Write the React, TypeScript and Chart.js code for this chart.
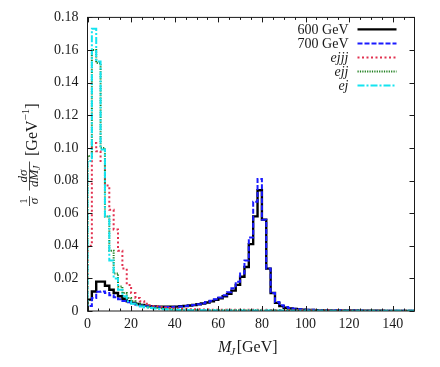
import React, { useEffect, useRef } from "react";
import { Chart, registerables } from "chart.js";

Chart.register(...registerables);

const SERIF = '"Liberation Serif", "DejaVu Serif", serif';
const INK = "#1a1a1a";

// 2 GeV bins: edges from 0 to 150 GeV
const binEdges = [
  0, 2, 4, 6, 8, 10, 12, 14, 16, 18, 20, 22, 24, 26, 28, 30, 32, 34, 36, 38,
  40, 42, 44, 46, 48, 50, 52, 54, 56, 58, 60, 62, 64, 66, 68, 70, 72, 74, 76, 78,
  80, 82, 84, 86, 88, 90, 92, 94, 96, 98, 100, 102, 104, 106, 108, 110, 112, 114,
  116, 118, 120, 122, 124, 126, 128, 130, 132, 134, 136, 138, 140, 142, 144, 146,
  148, 150,
];

const xMajorTicks = [0, 20, 40, 60, 80, 100, 120, 140];
const xMinorTicks = [5, 10, 15, 25, 30, 35, 45, 50, 55, 65, 70, 75, 85, 90, 95, 105, 110, 115, 125, 130, 135, 145];
const yMajorTicks = [0, 0.02, 0.04, 0.06, 0.08, 0.1, 0.12, 0.14, 0.16, 0.18];

const seriesLabels = ["600 GeV", "700 GeV", "ejjj", "ejj", "ej"];
const labelItalic = [false, false, true, true, true];

const sig600 = [
  0.007, 0.012, 0.018, 0.018, 0.0155, 0.013, 0.011, 0.009, 0.0075, 0.006,
  0.005, 0.0043, 0.0037, 0.0033, 0.003, 0.0028, 0.0027, 0.0026, 0.0026, 0.0026,
  0.0027, 0.0029, 0.0031, 0.0034, 0.0037, 0.0041, 0.0046, 0.0052, 0.006, 0.0068,
  0.0078, 0.009, 0.0105, 0.0125, 0.016, 0.021, 0.027, 0.041, 0.058, 0.074,
  0.056, 0.026, 0.011, 0.005, 0.003, 0.002, 0.0015, 0.0012, 0.001, 0.0008,
  0.0007, 0.0006, 0.0005, 0.0005, 0.0004, 0.0004, 0.0004, 0.0003, 0.0003, 0.0003,
  0.0003, 0.0003, 0.0002, 0.0002, 0.0002, 0.0002, 0.0002, 0.0002, 0.0001, 0.0001,
  0.0001, 0.0001, 0.0001, 0.0001, 0.0001,
];

const sig700 = [
  0.003, 0.008, 0.0118, 0.012, 0.011, 0.0097, 0.0085, 0.0072, 0.0062, 0.0053,
  0.0046, 0.004, 0.0035, 0.0031, 0.0028, 0.0026, 0.0025, 0.0025, 0.0025, 0.0025,
  0.0026, 0.0028, 0.003, 0.0033, 0.0037, 0.0042, 0.0048, 0.0055, 0.0063, 0.0072,
  0.0083, 0.0097, 0.0115, 0.014, 0.018, 0.023, 0.031, 0.045, 0.067, 0.081,
  0.056, 0.026, 0.011, 0.0055, 0.0035, 0.0025, 0.0018, 0.0014, 0.0011, 0.0009,
  0.0008, 0.0007, 0.0006, 0.0005, 0.0005, 0.0004, 0.0004, 0.0004, 0.0003, 0.0003,
  0.0003, 0.0003, 0.0003, 0.0002, 0.0002, 0.0002, 0.0002, 0.0002, 0.0002, 0.0001,
  0.0001, 0.0001, 0.0001, 0.0001, 0.0001,
];

const bkgEjjj = [
  0.04, 0.103, 0.098, 0.092, 0.077, 0.062, 0.05, 0.037, 0.026, 0.016,
  0.011, 0.008, 0.006, 0.0045, 0.0035, 0.003, 0.0025, 0.002, 0.0018, 0.0016,
  0.0014, 0.0013, 0.0012, 0.0011, 0.001, 0.001, 0.0009, 0.0009, 0.0008, 0.0008,
  0.0008, 0.0008, 0.0007, 0.0007, 0.0007, 0.0007, 0.0007, 0.0007, 0.0007, 0.0007,
  0.0007, 0.0006, 0.0006, 0.0006, 0.0006, 0.0006, 0.0005, 0.0005, 0.0005, 0.0005,
  0.0005, 0.0005, 0.0004, 0.0004, 0.0004, 0.0004, 0.0004, 0.0004, 0.0004, 0.0003,
  0.0003, 0.0003, 0.0003, 0.0003, 0.0003, 0.0003, 0.0003, 0.0003, 0.0002, 0.0002,
  0.0002, 0.0002, 0.0002, 0.0002, 0.0002,
];

const bkgEjj = [
  0.095, 0.16, 0.152, 0.1, 0.058, 0.037, 0.023, 0.015, 0.011, 0.008,
  0.006, 0.0045, 0.0035, 0.0028, 0.0022, 0.0018, 0.0015, 0.0012, 0.001, 0.0009,
  0.0008, 0.0007, 0.0007, 0.0006, 0.0006, 0.0005, 0.0005, 0.0005, 0.0004, 0.0004,
  0.0004, 0.0004, 0.0004, 0.0004, 0.0004, 0.0004, 0.0004, 0.0004, 0.0004, 0.0004,
  0.0003, 0.0003, 0.0003, 0.0003, 0.0003, 0.0003, 0.0003, 0.0003, 0.0003, 0.0003,
  0.0003, 0.0003, 0.0003, 0.0003, 0.0003, 0.0002, 0.0002, 0.0002, 0.0002, 0.0002,
  0.0002, 0.0002, 0.0002, 0.0002, 0.0002, 0.0002, 0.0002, 0.0002, 0.0002, 0.0002,
  0.0002, 0.0002, 0.0002, 0.0002, 0.0002,
];

const bkgEj = [
  0.092, 0.173, 0.153, 0.099, 0.058, 0.031, 0.02, 0.013, 0.009, 0.006,
  0.0045, 0.0035, 0.0028, 0.0022, 0.0018, 0.0015, 0.0012, 0.001, 0.0009, 0.0008,
  0.0007, 0.0006, 0.0006, 0.0005, 0.0005, 0.0004, 0.0004, 0.0004, 0.0004, 0.0003,
  0.0003, 0.0003, 0.0003, 0.0003, 0.0003, 0.0003, 0.0003, 0.0003, 0.0003, 0.0003,
  0.0003, 0.0003, 0.0003, 0.0003, 0.0003, 0.0002, 0.0002, 0.0002, 0.0002, 0.0002,
  0.0002, 0.0002, 0.0002, 0.0002, 0.0002, 0.0002, 0.0002, 0.0002, 0.0002, 0.0002,
  0.0002, 0.0002, 0.0002, 0.0002, 0.0002, 0.0001, 0.0001, 0.0001, 0.0001, 0.0001,
  0.0001, 0.0001, 0.0001, 0.0001, 0.0001,
];

const seriesValues = [sig600, sig700, bkgEjjj, bkgEjj, bkgEj];
const seriesColors = ["#000000", "#1a1aff", "#e2314f", "#1f7f1f", "#14e4f0"];
const seriesDash: number[][] = [[], [5, 2], [2, 2.5], [1.2, 1.2], [7, 2, 2, 2]];
const seriesWidth = [2.4, 2, 2, 2, 2];

// points at bin left edges; horizontal run to next edge, then vertical step
function toSteps(vals: number[]) {
  const pts = [{ x: binEdges[0], y: 0 }];
  binEdges.forEach((x, i) => {
    if (i < vals.length) pts.push({ x, y: vals[i] });
  });
  pts.push({ x: binEdges[binEdges.length - 1], y: vals[vals.length - 1] });
  return pts;
}

const decorPlugin = {
  id: "decor",
  afterDraw(chart: any) {
    const ctx: CanvasRenderingContext2D = chart.ctx;
    const area = chart.chartArea;
    const xs = chart.scales.x;
    const ys = chart.scales.y;
    ctx.save();
    // frame
    ctx.strokeStyle = INK;
    ctx.lineWidth = 1;
    ctx.setLineDash([]);
    ctx.strokeRect(area.left, area.top, area.right - area.left, area.bottom - area.top);
    // ticks (inward, mirrored)
    ctx.beginPath();
    const drawX = (v: number, len: number) => {
      const px = Math.round(xs.getPixelForValue(v)) + 0.5;
      ctx.moveTo(px, area.bottom);
      ctx.lineTo(px, area.bottom - len);
      ctx.moveTo(px, area.top);
      ctx.lineTo(px, area.top + len);
    };
    xMajorTicks.forEach((v) => drawX(v, 5));
    xMinorTicks.forEach((v) => drawX(v, 2.5));
    yMajorTicks.forEach((v) => {
      const py = Math.round(ys.getPixelForValue(v)) + 0.5;
      ctx.moveTo(area.left, py);
      ctx.lineTo(area.left + 5, py);
      ctx.moveTo(area.right, py);
      ctx.lineTo(area.right - 5, py);
    });
    ctx.stroke();

    // legend
    const textRight = area.right - 66;
    const sampleL = area.right - 57;
    const sampleR = area.right - 18;
    seriesLabels.forEach((lab, i) => {
      const cy = area.top + 12 + i * 14;
      ctx.font = `${labelItalic[i] ? "italic " : ""}14px ${SERIF}`;
      ctx.fillStyle = INK;
      ctx.textAlign = "right";
      ctx.textBaseline = "alphabetic";
      ctx.fillText(lab, textRight, cy + 4.5);
      ctx.beginPath();
      ctx.strokeStyle = seriesColors[i];
      ctx.lineWidth = seriesWidth[i];
      ctx.setLineDash(seriesDash[i]);
      ctx.moveTo(sampleL, cy);
      ctx.lineTo(sampleR, cy);
      ctx.stroke();
    });
    ctx.setLineDash([]);

    // x-axis title: M_J[GeV]
    ctx.fillStyle = INK;
    ctx.textAlign = "left";
    ctx.textBaseline = "alphabetic";
    let x = 218;
    ctx.font = `italic 16px ${SERIF}`;
    ctx.fillText("M", x, 351.5);
    x += ctx.measureText("M").width - 1;
    ctx.font = `italic 11px ${SERIF}`;
    ctx.fillText("J", x, 355);
    x += ctx.measureText("J").width + 1.5;
    ctx.font = `16px ${SERIF}`;
    ctx.fillText("[GeV]", x, 351.5);

    // y-axis title: (1/σ) dσ/dM_J [GeV^-1], rotated
    ctx.translate(29.5, 206);
    ctx.rotate(-Math.PI / 2);
    ctx.strokeStyle = INK;
    ctx.lineWidth = 0.8;
    // 1/σ
    ctx.textAlign = "center";
    ctx.font = `11px ${SERIF}`;
    ctx.fillText("1", 5, -2.5);
    ctx.font = `italic 13px ${SERIF}`;
    ctx.fillText("σ", 5, 8);
    ctx.beginPath();
    ctx.moveTo(0, 0);
    ctx.lineTo(10, 0);
    ctx.stroke();
    // dσ / dM_J
    const c2 = 30;
    ctx.font = `italic 13px ${SERIF}`;
    ctx.fillText("dσ", c2, -2.5);
    ctx.textAlign = "left";
    const wdM = ctx.measureText("dM").width;
    ctx.font = `italic 10px ${SERIF}`;
    const wJ = ctx.measureText("J").width;
    const d0 = c2 - (wdM + wJ) / 2;
    ctx.font = `italic 13px ${SERIF}`;
    ctx.fillText("dM", d0, 8.5);
    ctx.font = `italic 10px ${SERIF}`;
    ctx.fillText("J", d0 + wdM - 0.5, 10.5);
    ctx.beginPath();
    ctx.moveTo(c2 - 14.5, 0);
    ctx.lineTo(c2 + 14.5, 0);
    ctx.stroke();
    // [GeV^-1]
    let u = 50;
    ctx.font = `16px ${SERIF}`;
    ctx.fillText("[GeV", u, 7);
    u += ctx.measureText("[GeV").width;
    ctx.font = `11px ${SERIF}`;
    ctx.fillText("−1", u, -1);
    u += ctx.measureText("−1").width;
    ctx.font = `16px ${SERIF}`;
    ctx.fillText("]", u, 7);
    ctx.restore();
  },
};

export default function App() {
  const ref = useRef<HTMLCanvasElement | null>(null);
  useEffect(() => {
    if (!ref.current) return;
    const datasets = seriesLabels.map((label, i) => ({
      label,
      data: toSteps(seriesValues[i]),
      borderColor: seriesColors[i],
      backgroundColor: seriesColors[i],
      borderWidth: seriesWidth[i],
      borderDash: seriesDash[i],
      stepped: "before" as const,
      pointRadius: 0,
      fill: false,
      order: seriesLabels.length - i,
    }));
    const chart = new Chart(ref.current, {
      type: "line",
      data: { datasets },
      options: {
        animation: false,
        responsive: false,
        events: [],
        layout: { padding: { left: 0, top: 17, right: 25.5, bottom: 0 } },
        plugins: { legend: { display: false }, tooltip: { enabled: false } },
        scales: {
          x: {
            type: "linear",
            min: 0,
            max: 150,
            grid: { display: false, drawTicks: false },
            border: { display: false },
            afterBuildTicks: (s: any) => {
              s.ticks = xMajorTicks.map((value) => ({ value }));
            },
            afterFit: (s: any) => {
              s.height = 56;
            },
            ticks: {
              padding: 5,
              color: INK,
              font: { family: SERIF, size: 14 },
              maxRotation: 0,
              autoSkip: false,
            },
          },
          y: {
            type: "linear",
            min: 0,
            max: 0.18,
            grid: { display: false, drawTicks: false },
            border: { display: false },
            afterBuildTicks: (s: any) => {
              s.ticks = yMajorTicks.map((value) => ({ value }));
            },
            afterFit: (s: any) => {
              s.width = 87.5;
            },
            ticks: {
              padding: 9,
              color: INK,
              font: { family: SERIF, size: 14 },
              autoSkip: false,
            },
          },
        },
      },
      plugins: [decorPlugin],
    });
    return () => chart.destroy();
  }, []);
  return (
    <div style={{ position: "fixed", left: 0, top: 0, width: 440, height: 367, background: "#fff" }}>
      <canvas ref={ref} width={440} height={367} style={{ display: "block" }} />
    </div>
  );
}
